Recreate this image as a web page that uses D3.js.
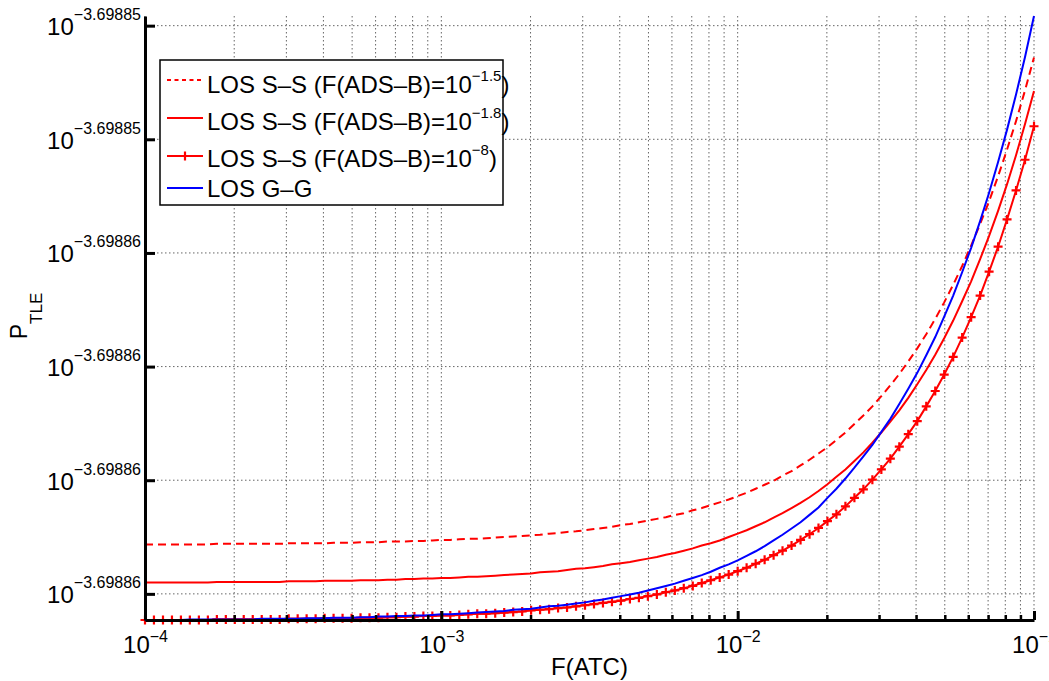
<!DOCTYPE html>
<html>
<head>
<meta charset="utf-8">
<script src="https://cdn.jsdelivr.net/npm/d3@7"></script>
<style>
  body { margin: 0; background: #fff; }
  svg text { font-family: "Liberation Sans", Arial, Helvetica, sans-serif; fill: #000; }
</style>
</head>
<body>
<div id="chart"></div>
<script>
// F(ATC) sample points (log spaced, 1e-4 .. 1e-1)
const fAtc = [
  1.000e-4,1.072e-4,1.150e-4,1.233e-4,1.322e-4,1.417e-4,1.520e-4,1.630e-4,1.748e-4,1.874e-4,2.009e-4,2.154e-4,2.310e-4,2.477e-4,2.656e-4,2.848e-4,3.054e-4,3.275e-4,3.511e-4,3.765e-4,4.037e-4,4.329e-4,4.642e-4,4.977e-4,5.337e-4,5.722e-4,6.136e-4,6.579e-4,7.055e-4,7.565e-4,8.111e-4,8.697e-4,9.326e-4,
  1.000e-3,1.072e-3,1.150e-3,1.233e-3,1.322e-3,1.417e-3,1.520e-3,1.630e-3,1.748e-3,1.874e-3,2.009e-3,2.154e-3,2.310e-3,2.477e-3,2.656e-3,2.848e-3,3.054e-3,3.275e-3,3.511e-3,3.765e-3,4.037e-3,4.329e-3,4.642e-3,4.977e-3,5.337e-3,5.722e-3,6.136e-3,6.579e-3,7.055e-3,7.565e-3,8.111e-3,8.697e-3,9.326e-3,
  1.000e-2,1.072e-2,1.150e-2,1.233e-2,1.322e-2,1.417e-2,1.520e-2,1.630e-2,1.748e-2,1.874e-2,2.009e-2,2.154e-2,2.310e-2,2.477e-2,2.656e-2,2.848e-2,3.054e-2,3.275e-2,3.511e-2,3.765e-2,4.037e-2,4.329e-2,4.642e-2,4.977e-2,5.337e-2,5.722e-2,6.136e-2,6.579e-2,7.055e-2,7.565e-2,8.111e-2,8.697e-2,9.326e-2,
  1.000e-1
];

// log10(P_TLE), LOS S-S, F(ADS-B)=10^-1.5 (dashed)
const losSS15 = [
  -3.69886113,-3.69886113,-3.69886113,-3.69886113,-3.69886113,-3.69886113,-3.69886113,-3.69886113,
  -3.69886112,-3.69886112,-3.69886112,-3.69886112,-3.69886112,-3.69886112,-3.69886112,-3.69886112,
  -3.69886111,-3.69886111,-3.69886111,-3.69886111,-3.69886111,-3.69886110,-3.69886110,-3.69886110,
  -3.69886109,-3.69886109,-3.69886109,-3.69886108,-3.69886108,-3.69886108,-3.69886107,-3.69886107,-3.69886106,
  -3.69886105,-3.69886105,-3.69886104,-3.69886103,-3.69886103,-3.69886102,-3.69886101,-3.69886100,-3.69886099,-3.69886098,-3.69886097,
  -3.69886096,-3.69886094,-3.69886093,-3.69886091,-3.69886090,-3.69886088,-3.69886086,-3.69886084,-3.69886082,-3.69886079,-3.69886077,
  -3.69886074,-3.69886071,-3.69886068,-3.69886065,-3.69886061,-3.69886058,-3.69886053,-3.69886049,-3.69886044,-3.69886039,-3.69886034,
  -3.69886028,-3.69886022,-3.69886015,-3.69886008,-3.69886001,-3.69885992,-3.69885984,-3.69885974,-3.69885964,-3.69885953,-3.69885942,
  -3.69885929,-3.69885916,-3.69885901,-3.69885886,-3.69885870,-3.69885852,-3.69885833,-3.69885813,-3.69885791,-3.69885768,-3.69885743,
  -3.69885716,-3.69885687,-3.69885656,-3.69885623,-3.69885587,-3.69885549,-3.69885509,-3.69885465,-3.69885418,-3.69885368,-3.69885314,
  -3.69885256
];

// log10(P_TLE), LOS S-S, F(ADS-B)=10^-1.8 (solid)
const losSS18 = [
  -3.69886180,-3.69886180,-3.69886180,-3.69886180,-3.69886180,-3.69886180,-3.69886180,-3.69886180,
  -3.69886179,-3.69886179,-3.69886179,-3.69886179,-3.69886179,-3.69886179,-3.69886179,-3.69886179,
  -3.69886178,-3.69886178,-3.69886178,-3.69886178,-3.69886177,-3.69886177,-3.69886177,-3.69886177,
  -3.69886176,-3.69886176,-3.69886176,-3.69886175,-3.69886175,-3.69886174,-3.69886174,-3.69886173,-3.69886173,
  -3.69886172,-3.69886172,-3.69886171,-3.69886170,-3.69886170,-3.69886169,-3.69886168,-3.69886167,-3.69886166,-3.69886165,-3.69886164,
  -3.69886162,-3.69886161,-3.69886160,-3.69886158,-3.69886156,-3.69886155,-3.69886153,-3.69886151,-3.69886148,-3.69886146,-3.69886144,
  -3.69886141,-3.69886138,-3.69886135,-3.69886131,-3.69886128,-3.69886124,-3.69886120,-3.69886115,-3.69886111,-3.69886106,-3.69886100,
  -3.69886094,-3.69886088,-3.69886081,-3.69886074,-3.69886066,-3.69886058,-3.69886049,-3.69886040,-3.69886030,-3.69886019,-3.69886007,
  -3.69885994,-3.69885981,-3.69885966,-3.69885951,-3.69885934,-3.69885916,-3.69885897,-3.69885877,-3.69885855,-3.69885831,-3.69885806,
  -3.69885779,-3.69885750,-3.69885719,-3.69885685,-3.69885650,-3.69885611,-3.69885570,-3.69885526,-3.69885479,-3.69885428,-3.69885373,
  -3.69885315
];

// log10(P_TLE), LOS S-S, F(ADS-B)=10^-8 (solid with + markers)
const losSS8 = [
  -3.69886246,-3.69886246,-3.69886246,-3.69886246,-3.69886246,-3.69886246,-3.69886246,-3.69886246,
  -3.69886245,-3.69886245,-3.69886245,-3.69886245,-3.69886245,-3.69886245,-3.69886245,-3.69886245,
  -3.69886244,-3.69886244,-3.69886244,-3.69886244,-3.69886243,-3.69886243,-3.69886243,-3.69886243,
  -3.69886242,-3.69886242,-3.69886242,-3.69886241,-3.69886241,-3.69886240,-3.69886240,-3.69886239,-3.69886239,
  -3.69886238,-3.69886238,-3.69886237,-3.69886236,-3.69886235,-3.69886235,-3.69886234,-3.69886233,-3.69886232,-3.69886231,-3.69886229,
  -3.69886228,-3.69886227,-3.69886225,-3.69886224,-3.69886222,-3.69886220,-3.69886218,-3.69886216,-3.69886214,-3.69886212,-3.69886209,
  -3.69886207,-3.69886204,-3.69886201,-3.69886197,-3.69886194,-3.69886190,-3.69886186,-3.69886181,-3.69886176,-3.69886171,-3.69886166,
  -3.69886160,-3.69886154,-3.69886147,-3.69886140,-3.69886132,-3.69886124,-3.69886115,-3.69886105,-3.69886095,-3.69886084,-3.69886072,
  -3.69886060,-3.69886046,-3.69886031,-3.69886016,-3.69885999,-3.69885981,-3.69885962,-3.69885941,-3.69885919,-3.69885896,-3.69885870,
  -3.69885843,-3.69885814,-3.69885783,-3.69885749,-3.69885713,-3.69885675,-3.69885633,-3.69885589,-3.69885541,-3.69885490,-3.69885436,
  -3.69885377
];

// log10(P_TLE), LOS G-G (blue)
const losGG = [
  -3.69886246,-3.69886246,-3.69886246,-3.69886246,-3.69886246,-3.69886245,-3.69886245,-3.69886245,
  -3.69886245,-3.69886245,-3.69886245,-3.69886245,-3.69886245,-3.69886244,-3.69886244,-3.69886244,
  -3.69886244,-3.69886244,-3.69886243,-3.69886243,-3.69886243,-3.69886242,-3.69886242,-3.69886242,
  -3.69886241,-3.69886241,-3.69886240,-3.69886240,-3.69886239,-3.69886239,-3.69886238,-3.69886238,-3.69886237,
  -3.69886236,-3.69886236,-3.69886235,-3.69886234,-3.69886233,-3.69886232,-3.69886231,-3.69886230,-3.69886228,-3.69886227,-3.69886226,
  -3.69886224,-3.69886222,-3.69886221,-3.69886219,-3.69886217,-3.69886215,-3.69886212,-3.69886210,-3.69886207,-3.69886204,-3.69886201,
  -3.69886198,-3.69886194,-3.69886190,-3.69886186,-3.69886182,-3.69886177,-3.69886172,-3.69886167,-3.69886161,-3.69886154,-3.69886148,
  -3.69886141,-3.69886133,-3.69886125,-3.69886116,-3.69886106,-3.69886096,-3.69886085,-3.69886074,-3.69886061,-3.69886048,-3.69886031,
  -3.69886015,-3.69885997,-3.69885978,-3.69885958,-3.69885938,-3.69885915,-3.69885892,-3.69885866,-3.69885839,-3.69885811,-3.69885780,
  -3.69885748,-3.69885712,-3.69885675,-3.69885634,-3.69885591,-3.69885544,-3.69885494,-3.69885440,-3.69885383,-3.69885321,-3.69885255,
  -3.69885183
];

const xTicks = [1e-4, 1e-3, 1e-2, 1e-1];
const xTickExp = ["\u22124", "\u22123", "\u22122", "\u22121"];
const yTicks = [-3.698862, -3.698860, -3.698858, -3.698856, -3.698854, -3.698852];
const yTickExp = ["\u22123.69886", "\u22123.69886", "\u22123.69886", "\u22123.69886", "\u22123.69885", "\u22123.69885"];

const legendItems = [
  {text: "LOS S\u2013S (F(ADS\u2013B)=10", sup: "\u22121.5", tail: ")"},
  {text: "LOS S\u2013S (F(ADS\u2013B)=10", sup: "\u22121.8", tail: ")"},
  {text: "LOS S\u2013S (F(ADS\u2013B)=10", sup: "\u22128", tail: ")"},
  {text: "LOS G\u2013G", sup: "", tail: ""}
];

const width = 1049, height = 681;
const plot = {left: 145, right: 1034, top: 16, bottom: 620};

const svg = d3.select('#chart').append('svg')
  .attr('width', width)
  .attr('height', height);

const x = d3.scaleLog().domain([1e-4, 1e-1]).range([plot.left, plot.right]);
const yAll = [].concat(losSS15, losSS18, losSS8, losGG);
const y = d3.scaleLinear().domain(d3.extent(yAll)).range([plot.bottom, plot.top]);

// grid
const grid = svg.append('g')
  .attr('stroke', '#666')
  .attr('stroke-width', 1)
  .attr('stroke-dasharray', '1.5,2.5');

grid.selectAll('.vgrid')
  .data(x.ticks())
  .join('line')
  .attr('x1', d => x(d)).attr('x2', d => x(d))
  .attr('y1', plot.top).attr('y2', plot.bottom);

grid.selectAll('.hgrid')
  .data(yTicks)
  .join('line')
  .attr('x1', plot.left).attr('x2', plot.right)
  .attr('y1', d => y(d)).attr('y2', d => y(d));

// series
const line = d3.line()
  .x((d, i) => x(fAtc[i]))
  .y(d => y(d));

svg.append('path')
  .datum(losSS15)
  .attr('fill', 'none')
  .attr('stroke', '#ff0000')
  .attr('stroke-width', 2)
  .attr('stroke-dasharray', '8,5')
  .attr('d', line);

svg.append('path')
  .datum(losSS18)
  .attr('fill', 'none')
  .attr('stroke', '#ff0000')
  .attr('stroke-width', 2)
  .attr('d', line);

svg.append('path')
  .datum(losSS8)
  .attr('fill', 'none')
  .attr('stroke', '#ff0000')
  .attr('stroke-width', 2)
  .attr('d', line);

svg.append('g')
  .selectAll('path')
  .data(losSS8)
  .join('path')
  .attr('transform', (d, i) => `translate(${x(fAtc[i])},${y(d)})`)
  .attr('d', 'M-4.5,0H4.5M0,-4.5V4.5')
  .attr('stroke', '#ff0000')
  .attr('stroke-width', 2.2);

svg.append('path')
  .datum(losGG)
  .attr('fill', 'none')
  .attr('stroke', '#0000ff')
  .attr('stroke-width', 2)
  .attr('d', line);

// axes
const xMinor = d3.axisBottom(x)
  .tickValues(x.ticks().filter(d => !xTicks.includes(d)))
  .tickSizeInner(-5).tickSizeOuter(0).tickFormat('');
const xMajor = d3.axisBottom(x)
  .tickValues(xTicks)
  .tickSizeInner(-9).tickSizeOuter(0).tickFormat('');

svg.append('g')
  .attr('transform', `translate(0,${plot.bottom})`)
  .call(xMinor)
  .call(g => g.selectAll('line').attr('stroke', '#000').attr('stroke-width', 2.5))
  .call(g => g.select('.domain').remove());

const xg = svg.append('g')
  .attr('transform', `translate(0,${plot.bottom})`)
  .call(xMajor)
  .call(g => g.selectAll('line').attr('stroke', '#000').attr('stroke-width', 3))
  .call(g => g.select('.domain').attr('stroke', '#000').attr('stroke-width', 3));

xg.selectAll('.tick text').remove();
xg.selectAll('.tick')
  .append('text')
  .attr('text-anchor', 'middle')
  .attr('y', 33)
  .style('font-size', '24px')
  .each(function(d, i) {
    const t = d3.select(this);
    t.append('tspan').text('10');
    t.append('tspan').attr('dy', -11).style('font-size', '16px').text(xTickExp[i]);
  });

const yg = svg.append('g')
  .attr('transform', `translate(${plot.left},0)`)
  .call(d3.axisLeft(y).tickValues(yTicks).tickSizeInner(-10).tickSizeOuter(0).tickFormat(''))
  .call(g => g.selectAll('line').attr('stroke', '#000').attr('stroke-width', 3))
  .call(g => g.select('.domain').attr('stroke', '#000').attr('stroke-width', 3));

yg.selectAll('.tick text').remove();
yg.selectAll('.tick')
  .append('text')
  .attr('text-anchor', 'end')
  .attr('x', -4)
  .attr('y', 9)
  .style('font-size', '24px')
  .each(function(d, i) {
    const t = d3.select(this);
    t.append('tspan').text('10');
    t.append('tspan').attr('dy', -15).style('font-size', '16px').text(yTickExp[i]);
  });

// axis titles
svg.append('text')
  .attr('x', (plot.left + plot.right) / 2)
  .attr('y', 675)
  .attr('text-anchor', 'middle')
  .style('font-size', '24px')
  .text('F(ATC)');

const yTitle = svg.append('text')
  .attr('transform', `translate(27,316) rotate(-90)`)
  .attr('text-anchor', 'middle')
  .style('font-size', '23px');
yTitle.append('tspan').text('P');
yTitle.append('tspan').attr('dy', 15).style('font-size', '17px').text('TLE');

// legend
const legend = svg.append('g');
legend.append('rect')
  .attr('x', 160).attr('y', 60)
  .attr('width', 343).attr('height', 145)
  .attr('fill', '#fff')
  .attr('stroke', '#000')
  .attr('stroke-width', 1.5);

const rowLine = [80, 118, 156, 188];
const rowBase = [93, 129.5, 167, 197];
const legendStyle = [
  {color: '#ff0000', dash: '4,3.5', marker: false},
  {color: '#ff0000', dash: null, marker: false},
  {color: '#ff0000', dash: null, marker: true},
  {color: '#0000ff', dash: null, marker: false}
];

legendItems.forEach((item, i) => {
  const st = legendStyle[i];
  legend.append('line')
    .attr('x1', 167).attr('x2', 203)
    .attr('y1', rowLine[i]).attr('y2', rowLine[i])
    .attr('stroke', st.color)
    .attr('stroke-width', 2)
    .attr('stroke-dasharray', st.dash);
  if (st.marker) {
    legend.append('path')
      .attr('transform', `translate(185,${rowLine[i]})`)
      .attr('d', 'M-4.5,0H4.5M0,-4.5V4.5')
      .attr('stroke', st.color)
      .attr('stroke-width', 2.2);
  }
  const t = legend.append('text')
    .attr('x', 207).attr('y', rowBase[i])
    .style('font-size', '24px');
  t.append('tspan').text(item.text);
  if (item.sup) {
    t.append('tspan').attr('dy', -12).style('font-size', '15px').text(item.sup);
    t.append('tspan').attr('dy', 12).text(item.tail);
  }
});
</script>
</body>
</html>
